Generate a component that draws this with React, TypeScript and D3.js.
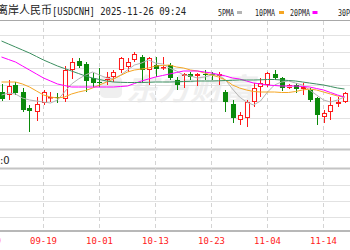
import React from 'react';
import * as d3 from 'd3';

const dates = [
  '09-11','09-12','09-15','09-16','09-17','09-18','09-19','09-22','09-23','09-24',
  '09-25','09-26','09-29','09-30','10-01','10-02','10-03','10-06','10-07','10-08',
  '10-09','10-10','10-13','10-14','10-15','10-16','10-17','10-20','10-21','10-22',
  '10-23','10-24','10-27','10-28','10-29','10-30','10-31','11-03','11-04','11-05',
  '11-06','11-07','11-10','11-11','11-12','11-13','11-14','11-17','11-18','11-19',
];
const openP = [
  7.1240,7.1225,7.1275,7.1240,7.1160,7.1140,7.1185,7.1210,7.1215,7.1205,
  7.1350,7.1395,7.1380,7.1310,7.1290,7.1300,7.1315,7.1350,7.1365,7.1400,
  7.1415,7.1350,7.1375,7.1360,7.1375,7.1300,7.1320,7.1330,7.1320,7.1330,
  7.1330,7.1320,7.1240,7.1180,7.1100,7.1110,7.1190,7.1265,7.1275,7.1330,
  7.1310,7.1260,7.1275,7.1255,7.1250,7.1210,7.1115,7.1140,7.1180,7.1190,
];
const highP = [
  7.1280,7.1300,7.1290,7.1260,7.1175,7.1215,7.1250,7.1240,7.1235,7.1370,
  7.1410,7.1410,7.1390,7.1335,7.1360,7.1340,7.1350,7.1415,7.1410,7.1440,
  7.1425,7.1415,7.1415,7.1415,7.1385,7.1315,7.1335,7.1340,7.1335,7.1350,
  7.1340,7.1340,7.1250,7.1200,7.1140,7.1200,7.1285,7.1310,7.1340,7.1350,
  7.1315,7.1280,7.1285,7.1285,7.1260,7.1215,7.1150,7.1215,7.1215,7.1240,
];
const lowP = [
  7.1195,7.1200,7.1225,7.1140,7.1040,7.1095,7.1175,7.1190,7.1185,7.1190,
  7.1305,7.1360,7.1240,7.1265,7.1265,7.1275,7.1290,7.1335,7.1340,7.1390,
  7.1290,7.1275,7.1315,7.1350,7.1300,7.1250,7.1260,7.1300,7.1270,7.1300,
  7.1300,7.1275,7.1140,7.1085,7.1075,7.1065,7.1165,7.1215,7.1265,7.1300,
  7.1245,7.1255,7.1235,7.1225,7.1190,7.1075,7.1085,7.1100,7.1165,7.1185,
];
const closeP = [
  7.1205,7.1270,7.1235,7.1150,7.1145,7.1180,7.1240,7.1215,7.1210,7.1350,
  7.1390,7.1370,7.1295,7.1285,7.1285,7.1315,7.1340,7.1410,7.1390,7.1430,
  7.1350,7.1410,7.1355,7.1365,7.1310,7.1275,7.1330,7.1315,7.1330,7.1325,
  7.1325,7.1330,7.1190,7.1110,7.1125,7.1190,7.1260,7.1285,7.1335,7.1310,
  7.1260,7.1275,7.1255,7.1265,7.1200,7.1125,7.1135,7.1175,7.1190,7.1235,
];
const ma5 = [
  7.1225,7.1235,7.1230,7.1210,7.1200,7.1195,7.1190,7.1185,7.1200,7.1240,
  7.1280,7.1305,7.1325,7.1340,7.1325,7.1310,7.1305,7.1325,7.1350,7.1375,
  7.1385,7.1400,7.1385,7.1380,7.1360,7.1345,7.1325,7.1320,7.1310,7.1315,
  7.1325,7.1325,7.1300,7.1255,7.1215,7.1190,7.1175,7.1195,7.1240,7.1275,
  7.1290,7.1295,7.1285,7.1275,7.1250,7.1225,7.1200,7.1190,7.1200,7.1215,
];
const ma10 = [
  7.1290,7.1290,7.1290,7.1280,7.1265,7.1245,7.1225,7.1215,7.1210,7.1215,
  7.1230,7.1240,7.12475,7.1260,7.1275,7.1290,7.1305,7.13225,7.1340,7.1350,
  7.1355,7.1360,7.1370,7.13725,7.1375,7.1365,7.1360,7.1350,7.1345,7.1335,
  7.1325,7.1315,7.1300,7.1275,7.1260,7.1250,7.12425,7.1240,7.1240,7.1240,
  7.12375,7.12375,7.12425,7.1250,7.1255,7.1250,7.1240,7.1230,7.1220,7.1215,
];
const ma20 = [
  7.1415,7.14025,7.1390,7.1370,7.1350,7.1330,7.1310,7.1295,7.1280,7.12725,
  7.1265,7.1265,7.1265,7.1265,7.1265,7.1265,7.1265,7.12675,7.1270,7.12825,
  7.1295,7.1305,7.1315,7.13225,7.1330,7.13375,7.1345,7.1345,7.1345,7.1340,
  7.1335,7.13275,7.1320,7.1310,7.1305,7.1295,7.1285,7.1280,7.1275,7.12725,
  7.1270,7.1270,7.1270,7.12675,7.1265,7.12575,7.1250,7.12375,7.1225,7.1215,
];
const ma30 = [
  7.1495,7.1480,7.1465,7.1450,7.1435,7.14175,7.1400,7.1385,7.1370,7.13575,
  7.1345,7.13325,7.1320,7.1310,7.13025,7.1295,7.1290,7.12885,7.12875,7.12875,
  7.12875,7.12885,7.1290,7.1290,7.1290,7.1291,7.12925,7.12935,7.1295,7.1295,
  7.1295,7.1296,7.12975,7.12985,7.1300,7.1300,7.1300,7.1301,7.13025,7.13025,
  7.1300,7.12975,7.1295,7.1290,7.1285,7.1280,7.1275,7.12675,7.1260,7.1255,
];
const tickLabels = ['09-09', '09-19', '10-01', '10-13', '10-23', '11-04', '11-14'];
const legendNames = ['5PMA', '10PMA', '20PMA', '30PMA'];
const maSeries = [ma5, ma10, ma20, ma30];
const titleName = '离岸人民币';
const titleRest = '[USDCNH] 2025-11-26 09:24';
const volumeLabel = ':0';

const maColors = ['#b4b4b4', '#f5a623', '#ff00ff', '#3c8f60'];
const UP = '#ff1a1a';
const DOWN = '#0a8a0a';

export default function App() {
  const W = 350, H = 250;
  const x = d3.scaleLinear().domain([0, dates.length - 1]).range([1.5, 344.5]);
  const y = d3.scaleLinear().domain([7.0945, 7.16]).range([151, 20]);
  const step = x(1) - x(0);
  const tickIdx = tickLabels.map((t) => {
    const k = dates.indexOf(t);
    return k >= 0 ? k : dates.indexOf(tickLabels[1]) - 8;
  });
  const line = (arr: number[]) =>
    d3.line<number>().x((_, i) => x(i)).y((v) => y(v))(arr) || '';

  const mainGrid = d3.range(7).map((k) => Math.round(35 + 16.5 * k) + 0.5);
  const volGrid = [185.5, 201.5, 217.5];

  const legendX = [218, 255, 290, 338];
  const legendW = [16, 20, 20, 20];
  const markerX = [237, 279, 312.5, 360];

  return (
    <svg
      width={W}
      height={H}
      style={{ position: 'fixed', left: 0, top: 0, background: '#fff' }}
      fontFamily="'Noto Sans CJK SC', sans-serif"
    >
      <rect x={0} y={0} width={W} height={H} fill="#fff" />
      {/* header */}
      <text x={-3} y={14} fontSize={11} fill="#222">{titleName}</text>
      <text
        x={52}
        y={14.5}
        fontSize={10}
        fontFamily="'DejaVu Sans Mono', monospace"
        fill="#222"
        textLength={134}
        lengthAdjust="spacingAndGlyphs"
      >
        {titleRest}
      </text>
      {legendNames.map((n, i) => (
        <g key={n}>
          <text
            x={legendX[i]}
            y={16}
            fontSize={9}
            fontFamily="'DejaVu Sans Mono', monospace"
            fill="#222"
            textLength={legendW[i]}
            lengthAdjust="spacingAndGlyphs"
          >
            {n}
          </text>
          <rect x={markerX[i]} y={11} width={5} height={3} fill={maColors[i]} />
        </g>
      ))}
      <line x1={0} x2={W} y1={20.5} y2={20.5} stroke="#a8a8a8" />

      {/* watermark */}
      <g opacity={0.32}>
        <rect x={100} y={76} width={22} height={22} rx={5} fill="#cfcfcf" />
        <text
          x={126}
          y={100}
          fontSize={30}
          fontWeight="bold"
          fontStyle="italic"
          fill="#cfcfcf"
          textLength={128}
          lengthAdjust="spacingAndGlyphs"
        >
          东方财富
        </text>
      </g>

      {/* gridlines */}
      {mainGrid.map((g) => (
        <line key={g} x1={0} x2={W} y1={g} y2={g} stroke="#e2e2e2" />
      ))}
      <line x1={0} x2={W} y1={149.5} y2={149.5} stroke="#c4c4c4" strokeWidth={2} />
      <line x1={0} x2={W} y1={168.5} y2={168.5} stroke="#c4c4c4" strokeWidth={2} />
      {volGrid.map((g) => (
        <line key={g} x1={0} x2={W} y1={g} y2={g} stroke="#e2e2e2" />
      ))}
      <line x1={0} x2={W} y1={231} y2={231} stroke="#a0a0a0" strokeWidth={1.5} />
      {tickIdx.map((k, i) => (
        <line
          key={'v' + i}
          x1={x(k)}
          x2={x(k)}
          y1={21}
          y2={230}
          stroke="#d4d4d4"
          strokeDasharray="4,3"
        />
      ))}
      <text x={0} y={164} fontSize={10} fill="#222" fontFamily="'DejaVu Sans', sans-serif">
        {volumeLabel}
      </text>

      {/* candles */}
      {dates.map((d, i) => {
        const o = openP[i], c = closeP[i], h = highP[i], l = lowP[i];
        const up = c >= o;
        const cx = Math.round(x(i)) + 0.5;
        const top = Math.round(y(Math.max(o, c)));
        const bot = Math.max(Math.round(y(Math.min(o, c))), top + 1);
        const col = up ? UP : DOWN;
        const hw = step * 0.36;
        return (
          <g key={d}>
            <line x1={cx} x2={cx} y1={y(h)} y2={top} stroke={col} />
            <line x1={cx} x2={cx} y1={bot} y2={y(l)} stroke={col} />
            {up ? (
              <rect
                x={cx - hw + 0.5}
                y={top + 0.5}
                width={hw * 2 - 1}
                height={Math.max(bot - top - 1, 0.5)}
                fill="#fff"
                stroke={col}
              />
            ) : (
              <rect x={cx - hw} y={top} width={hw * 2} height={Math.max(bot - top, 1)} fill={col} />
            )}
          </g>
        );
      })}

      {/* moving averages */}
      {maSeries.map((s, i) => (
        <path key={i} d={line(s)} fill="none" stroke={maColors[i]} strokeWidth={1} />
      ))}

      {/* x labels */}
      {tickIdx.map((k, i) => (
        <text
          key={'t' + i}
          x={x(k)}
          y={244}
          fontSize={9.5}
          textAnchor="middle"
          fill="#ff2020"
          fontFamily="'DejaVu Sans Mono', monospace"
          textLength={27}
          lengthAdjust="spacingAndGlyphs"
        >
          {tickLabels[i]}
        </text>
      ))}
    </svg>
  );
}
